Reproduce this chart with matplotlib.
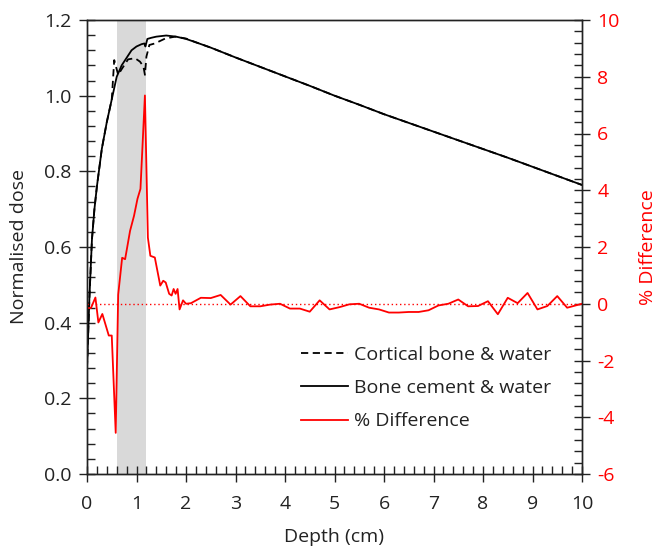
import matplotlib
matplotlib.use('Agg')
import matplotlib.pyplot as plt
from matplotlib.ticker import MultipleLocator, FormatStrFormatter

plt.rcParams['font.family'] = ['Open Sans', 'DejaVu Sans']
plt.rcParams['axes.unicode_minus'] = False

# ---------------- data ----------------
depth_cement = [0.0, 0.05, 0.1, 0.15, 0.2, 0.3, 0.4, 0.5, 0.6, 0.7, 0.8, 0.9, 1.0, 1.1, 1.16, 1.18,
                1.22, 1.3, 1.4, 1.6, 1.8, 2.0, 2.2, 2.5, 3.0, 3.5, 4.0, 4.5, 5.0, 5.5, 6.0, 6.5,
                7.0, 7.5, 8.0, 8.5, 9.0, 9.5, 10.0]
dose_cement = [0.28, 0.47, 0.62, 0.70, 0.76, 0.86, 0.93, 0.99, 1.05, 1.08, 1.10, 1.12, 1.13, 1.136, 1.138, 1.13,
               1.15, 1.153, 1.156, 1.159, 1.156, 1.150, 1.141, 1.127, 1.101, 1.076, 1.051, 1.026, 1.000, 0.976, 0.951, 0.928,
               0.905, 0.882, 0.859, 0.836, 0.812, 0.788, 0.764]

depth_cortical = [0.0, 0.05, 0.1, 0.15, 0.2, 0.3, 0.4, 0.5, 0.55, 0.63, 0.7, 0.83, 0.97, 1.07, 1.14, 1.17,
                  1.2, 1.26, 1.37, 1.58, 1.78, 2.0, 2.2, 2.5, 3.0, 3.5, 4.0, 4.5, 5.0, 5.5, 6.0, 6.5,
                  7.0, 7.5, 8.0, 8.5, 9.0, 9.5, 10.0]
dose_cortical = [0.28, 0.47, 0.62, 0.70, 0.76, 0.86, 0.93, 0.99, 1.094, 1.055, 1.07, 1.096, 1.099, 1.090, 1.077, 1.055,
                 1.103, 1.134, 1.138, 1.151, 1.156, 1.151, 1.141, 1.127, 1.101, 1.076, 1.051, 1.026, 1.000, 0.976, 0.951, 0.928,
                 0.905, 0.882, 0.859, 0.836, 0.812, 0.788, 0.764]

depth_diff = [0.0, 0.08, 0.17, 0.23, 0.31, 0.44, 0.50, 0.58, 0.63, 0.71, 0.77, 0.87, 0.95, 1.02, 1.08, 1.17,
              1.23, 1.28, 1.37, 1.48, 1.54, 1.59, 1.66, 1.71, 1.75, 1.79, 1.83, 1.87, 1.94, 2.0,
              2.1, 2.3, 2.5, 2.7, 2.9, 3.1, 3.3, 3.5, 3.7, 3.9, 4.1, 4.3, 4.5, 4.7, 4.9,
              5.1, 5.3, 5.5, 5.7, 5.9, 6.1, 6.3, 6.5, 6.7, 6.9, 7.1, 7.3, 7.5, 7.7, 7.9,
              8.1, 8.3, 8.5, 8.7, 8.9, 9.1, 9.3, 9.5, 9.7, 10.0]
pct_diff = [-0.15, -0.15, 0.22, -0.66, -0.36, -1.12, -1.12, -4.55, 0.32, 1.62, 1.57, 2.57, 3.1, 3.7, 4.05, 7.34,
            2.33, 1.69, 1.63, 0.64, 0.81, 0.75, 0.35, 0.29, 0.52, 0.35, 0.52, -0.2, 0.12, 0.0,
            0.02, 0.21, 0.2, 0.31, -0.03, 0.27, -0.09, -0.09, -0.03, 0.0, -0.17, -0.17, -0.28, 0.12, -0.2,
            -0.12, -0.02, 0.0, -0.14, -0.2, -0.31, -0.31, -0.29, -0.29, -0.23, -0.06, 0.0, 0.15, -0.09, -0.08,
            0.09, -0.37, 0.21, 0.02, 0.38, -0.2, -0.08, 0.27, -0.14, 0.0]

shade_range = (0.6, 1.2)
labels = ['Cortical bone & water', 'Bone cement & water', '% Difference']

# ---------------- figure ----------------
FS = 14
fig = plt.figure(figsize=(6.57, 5.47), dpi=100)
ax = fig.add_axes([87/657, 1-474/547, (582-87)/657, (474-20)/547])
ax2 = ax.twinx()

ax.axvspan(*shade_range, color='#d9d9d9', lw=0, zorder=0)
l1, = ax.plot(depth_cortical, dose_cortical, color='black', lw=1.3, ls=(0, (4, 2.5)), zorder=3)
l2, = ax.plot(depth_cement, dose_cement, color='black', lw=1.3, zorder=3)

ax2.axhline(0, color='red', lw=1.0, ls=(0, (1, 2)))
l3, = ax2.plot(depth_diff, pct_diff, color='red', lw=1.3)

ax.set_xlim(0, 10)
ax.set_ylim(0, 1.2)
ax2.set_ylim(-6, 10)

ax.xaxis.set_major_locator(MultipleLocator(1))
ax.xaxis.set_minor_locator(MultipleLocator(0.2))
ax.yaxis.set_major_locator(MultipleLocator(0.2))
ax.yaxis.set_minor_locator(MultipleLocator(0.04))
ax.yaxis.set_major_formatter(FormatStrFormatter('%.1f'))
ax2.yaxis.set_major_locator(MultipleLocator(2))
ax2.yaxis.set_minor_locator(MultipleLocator(0.4))

for a in (ax, ax2):
    a.tick_params(which='major', direction='inout', length=12, width=1.0, labelsize=FS, pad=5)
    a.tick_params(which='minor', direction='in', length=6, width=1.0)
    for s in a.spines.values():
        s.set_linewidth(1.0)
        s.set_color('#222222')
ax.tick_params(axis='both', which='both', colors='#222222')
ax.tick_params(axis='both', labelcolor='#222222')
ax.tick_params(axis='x', which='major', pad=9)
ax2.tick_params(axis='y', which='both', colors='#222222', labelcolor='red')

ax.set_xlabel('Depth (cm)', fontsize=FS, color='#222222', labelpad=11)
ax.set_ylabel('Normalised dose', fontsize=FS, color='#222222', labelpad=12)
ax2.set_ylabel('% Difference', fontsize=FS, color='red', labelpad=14)

leg = ax2.legend([l1, l2, l3], labels, loc='upper left', bbox_to_anchor=(301/657, 1-346/547),
                 bbox_transform=fig.transFigure, frameon=False, fontsize=FS,
                 handlelength=2.4, handletextpad=0.35, labelspacing=0.78, borderpad=0, borderaxespad=0)
for t in leg.get_texts():
    t.set_color('#222222')

fig.savefig('out.png', dpi=100)
